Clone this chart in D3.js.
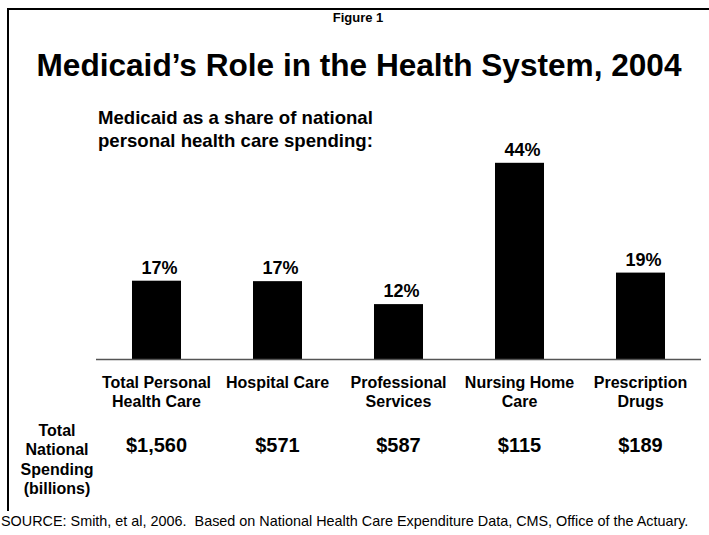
<!DOCTYPE html>
<html>
<head>
<meta charset="utf-8">
<script src="https://cdn.jsdelivr.net/npm/d3@7"></script>
<style>
  body { margin: 0; background: #fff; }
  text { font-family: "Liberation Sans", Arial, sans-serif; fill: #000; }
</style>
</head>
<body>
<svg id="chart" width="709" height="535"></svg>
<script>

// categories (two lines each) and values
let categories = ["Total Personal Health Care", "Hospital Care", "Professional Services", "Nursing Home Care", "Prescription Drugs"];
let cat_lines = [["Total Personal", "Health Care"], ["Hospital Care"], ["Professional", "Services"], ["Nursing Home", "Care"], ["Prescription", "Drugs"]];
let medicaid_share = [17.4, 17.3, 12.2, 43.6, 19.2];
let share_labels = ["17%", "17%", "12%", "44%", "19%"];
let spending = ["$1,560", "$571", "$587", "$115", "$189"];
let spending_title = ["Total", "National", "Spending", "(billions)"];

let svg = d3.select("#chart");

// frame line on top and left
svg.append("path")
    .attr("d", "M8,511 V9 H709")
    .attr("fill", "none")
    .attr("stroke", "#000")
    .attr("stroke-width", 2);

svg.append("text")
    .attr("x", 358).attr("y", 22)
    .attr("text-anchor", "middle")
    .attr("font-size", 13).attr("font-weight", "bold")
    .text("Figure 1");

svg.append("text")
    .attr("x", 359).attr("y", 76)
    .attr("text-anchor", "middle")
    .attr("font-size", 31.6).attr("font-weight", "bold")
    .text("Medicaid\u2019s Role in the Health System, 2004");

let sub = svg.append("text")
    .attr("font-size", 18.6).attr("font-weight", "bold");
sub.append("tspan").attr("x", 98).attr("y", 124).text("Medicaid as a share of national");
sub.append("tspan").attr("x", 98).attr("y", 147).text("personal health care spending:");

// scales
let x = d3.scaleBand()
    .domain(categories)
    .range([96, 701])
    .paddingInner(0.595)
    .paddingOuter(0.2975);

let y = d3.scaleLinear()
    .domain([0, 45])
    .range([359, 156.5]);

// bars
svg.append("g")
    .selectAll("rect")
    .data(medicaid_share)
    .enter()
    .append("rect")
      .attr("x", (d, i) => x(categories[i]))
      .attr("y", d => y(d))
      .attr("width", x.bandwidth())
      .attr("height", d => y(0) - y(d))
      .attr("fill", "#000");

// percent labels
svg.append("g")
    .selectAll("text")
    .data(medicaid_share)
    .enter()
    .append("text")
      .attr("x", (d, i) => x(categories[i]) + x.bandwidth() / 2 + 3)
      .attr("y", d => y(d) - 7)
      .attr("text-anchor", "middle")
      .attr("font-size", 18).attr("font-weight", "bold")
      .text((d, i) => share_labels[i]);

// baseline
svg.append("line")
    .attr("x1", x.range()[0]).attr("x2", x.range()[1])
    .attr("y1", y(0) + 0.5).attr("y2", y(0) + 0.5)
    .attr("stroke", "#555")
    .attr("stroke-width", 1.5);

// category labels
let cats = svg.append("g")
    .selectAll("text")
    .data(cat_lines)
    .enter()
    .append("text")
      .attr("text-anchor", "middle")
      .attr("font-size", 16).attr("font-weight", "bold");
cats.selectAll("tspan")
    .data((d, i) => d.map(s => ({s: s, c: categories[i]})))
    .enter()
    .append("tspan")
      .attr("x", d => x(d.c) + x.bandwidth() / 2)
      .attr("y", (d, j) => 388 + j * 19)
      .text(d => d.s);

// spending row
svg.append("g")
    .selectAll("text")
    .data(spending)
    .enter()
    .append("text")
      .attr("x", (d, i) => x(categories[i]) + x.bandwidth() / 2)
      .attr("y", 452)
      .attr("text-anchor", "middle")
      .attr("font-size", 20).attr("font-weight", "bold")
      .text(d => d);

let st = svg.append("text")
    .attr("text-anchor", "middle")
    .attr("font-size", 16).attr("font-weight", "bold");
st.selectAll("tspan")
    .data(spending_title)
    .enter()
    .append("tspan")
      .attr("x", 57)
      .attr("y", (d, i) => 436 + i * 19.3)
      .text(d => d);

svg.append("text")
    .attr("x", 1).attr("y", 526)
    .attr("font-size", 14.4)
    .text("SOURCE: Smith, et al, 2006.  Based on National Health Care Expenditure Data, CMS, Office of the Actuary.")
    .attr("xml:space", "preserve")
    .style("white-space", "pre");

</script>
</body>
</html>
